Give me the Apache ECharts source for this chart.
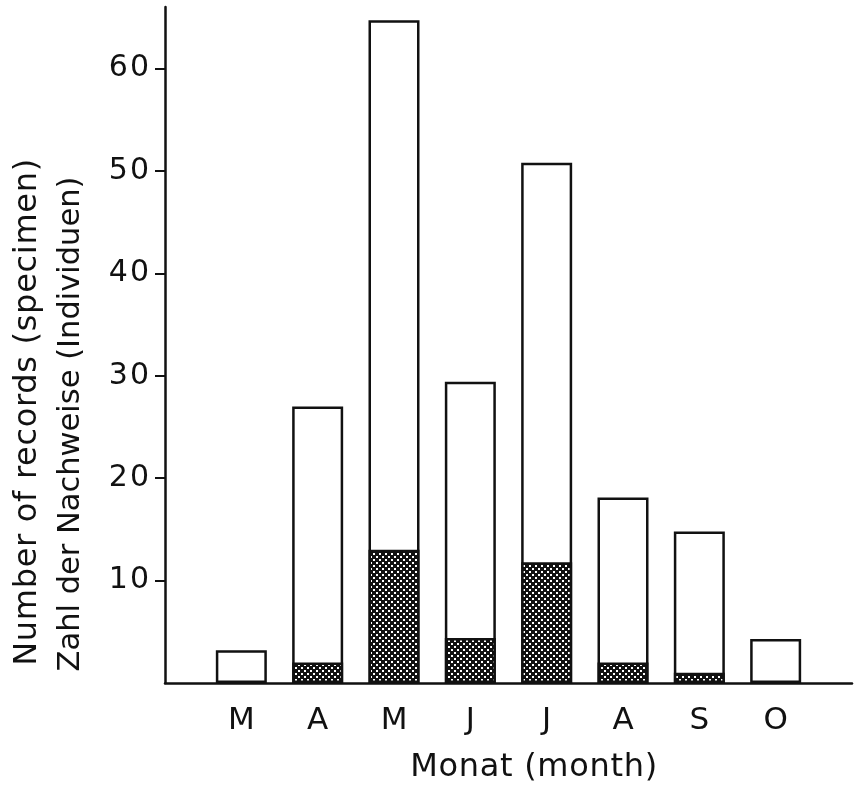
<!DOCTYPE html>
<html>
<head>
<meta charset="utf-8">
<script src="https://cdn.jsdelivr.net/npm/echarts@6/dist/echarts.min.js"></script>
<style>
html,body{margin:0;padding:0;background:#fff;}
#c{width:855px;height:791px;}
</style>
</head>
<body>
<div id="c"></div>
<script>
// Data
var months = ['', 'M', 'A', 'M', 'J', 'J', 'A', 'S', 'O', ''];
var totalRecords = [null, 3.2, 27, 64.7, 29.4, 50.8, 18.1, 14.8, 4.3, null];
var hatchedRecords = [null, null, 2, 13, 4.4, 11.8, 2, 1, null, null];
var yTicks = [10, 20, 30, 40, 50, 60];

var FONT = 'DejaVu Sans';

// slightly wider letter spacing, like the stencil lettering of the original
(function () {
  var proto = CanvasRenderingContext2D.prototype;
  var orig = proto.fillText;
  proto.fillText = function () {
    var has = ('letterSpacing' in this);
    if (has) {
      var f = this.font;
      var sp = '0px';
      if (/(^|\s)32px/.test(f)) sp = '0.7px';
      else if (/(^|\s)30px/.test(f)) sp = '2px';
      this.letterSpacing = sp;
    }
    var r = orig.apply(this, arguments);
    if (has) this.letterSpacing = '0px';
    return r;
  };
})();

// dotted cross-hatch pattern
var pc = document.createElement('canvas');
pc.width = 6; pc.height = 6;
var g = pc.getContext('2d');
g.fillStyle = '#111';
g.fillRect(0, 0, 6, 6);
g.fillStyle = '#fff';
g.fillRect(1, 1, 2, 2);
g.fillRect(4, 4, 2, 2);

var chart = echarts.init(document.getElementById('c'), null, {renderer: 'canvas'});
chart.setOption({
  backgroundColor: '#fff',
  animation: false,
  grid: {left: 165, right: 2, top: 7, bottom: 108, containLabel: false},
  xAxis: {
    type: 'category',
    data: months,
    boundaryGap: false,
    axisLine: {lineStyle: {color: '#111', width: 2.5}},
    axisTick: {show: false},
    axisLabel: {color: '#111', fontFamily: FONT, fontSize: 31, margin: 22, interval: 0},
    splitLine: {show: false}
  },
  yAxis: {
    type: 'value',
    min: 0,
    max: 66,
    interval: 10,
    axisLine: {show: true, lineStyle: {color: '#111', width: 2.5}},
    axisTick: {show: true, inside: false, length: 10, customValues: yTicks, lineStyle: {color: '#111', width: 2}},
    axisLabel: {color: '#111', fontFamily: FONT, fontSize: 30, margin: 14, customValues: yTicks},
    splitLine: {show: false}
  },
  series: [
    {
      type: 'bar',
      name: 'total',
      data: totalRecords,
      barWidth: 51,
      barGap: '-100%',
      itemStyle: {color: '#fff', borderColor: '#111', borderWidth: 2.5}
    },
    {
      type: 'bar',
      name: 'hatched',
      data: hatchedRecords,
      barWidth: 51,
      barGap: '-100%',
      itemStyle: {color: {image: pc, repeat: 'repeat'}, borderColor: '#111', borderWidth: 2.5}
    }
  ],
  graphic: [
    {
      type: 'text', x: 28, y: 412, rotation: Math.PI / 2,
      style: {text: 'Number of records (specimen)', fontFamily: FONT, fontSize: 32, fill: '#111', align: 'center', verticalAlign: 'middle'}
    },
    {
      type: 'text', x: 71, y: 424, rotation: Math.PI / 2,
      style: {text: 'Zahl der Nachweise (Individuen)', fontFamily: FONT, fontSize: 30.5, fill: '#111', align: 'center', verticalAlign: 'middle'}
    },
    {
      type: 'text', x: 534, y: 768,
      style: {text: 'Monat (month)', fontFamily: FONT, fontSize: 32, fill: '#111', align: 'center', verticalAlign: 'middle'}
    }
  ]
});
</script>
</body>
</html>
